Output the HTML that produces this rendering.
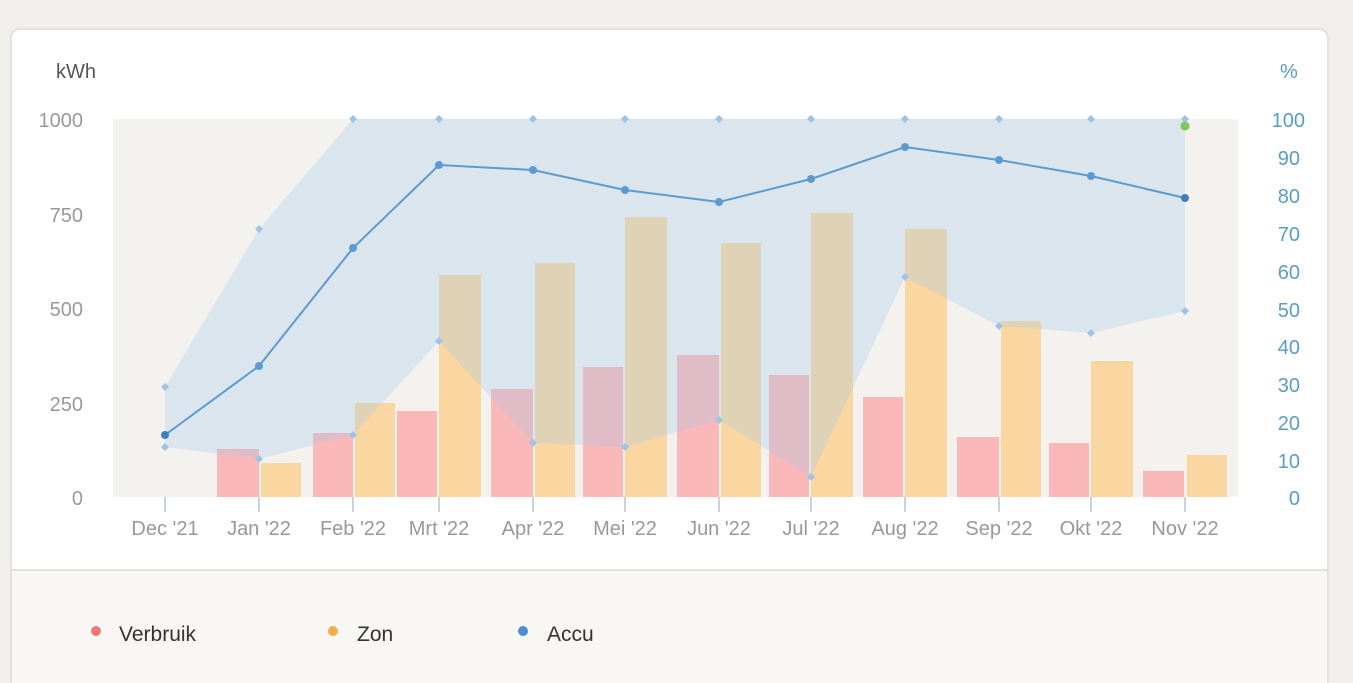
<!DOCTYPE html>
<html><head><style>
html,body{margin:0;width:1353px;height:683px;overflow:hidden;}
body{background:#f0efec;font-family:"Liberation Sans",sans-serif;position:relative;}
.card{position:absolute;left:10px;top:28px;width:1319px;height:670px;background:#fff;border:2px solid #e2e1de;border-radius:10px;box-sizing:border-box;}
.leg{position:absolute;left:12px;top:569px;width:1315px;height:114px;background:#f8f7f4;border-top:2px solid #e2e1de;}
</style></head><body>
<div class="card"></div>
<div class="leg"></div>
<svg width="1353" height="683" style="position:absolute;left:0;top:0" font-family="Liberation Sans, sans-serif">
<rect x="113" y="119" width="1125" height="378" fill="#f4f2ee"/>
<text x="56" y="78" font-size="20" fill="#555">kWh</text>
<text x="1280" y="78" font-size="20" fill="#5a9cc4">%</text>
<g font-size="20" fill="#999" text-anchor="end">
<text x="83" y="127">1000</text><text x="83" y="222">750</text><text x="83" y="316">500</text><text x="83" y="411">250</text><text x="83" y="505">0</text>
</g>
<g font-size="20" fill="#5a9cc4" text-anchor="end">
<text x="1305" y="127">100</text><text x="1300" y="165">90</text><text x="1300" y="203">80</text><text x="1300" y="241">70</text><text x="1300" y="279">60</text><text x="1300" y="317">50</text><text x="1300" y="354">40</text><text x="1300" y="392">30</text><text x="1300" y="430">20</text><text x="1300" y="468">10</text><text x="1300" y="505">0</text>
</g>
<g fill="#fbb8b8">
<rect x="217" y="449" width="42" height="48"/><rect x="313" y="433" width="40" height="64"/><rect x="397" y="411" width="40" height="86"/><rect x="491" y="389" width="42" height="108"/><rect x="583" y="367" width="40" height="130"/><rect x="677" y="355" width="42" height="142"/><rect x="769" y="375" width="40" height="122"/><rect x="863" y="397" width="40" height="100"/><rect x="957" y="437" width="42" height="60"/><rect x="1049" y="443" width="40" height="54"/><rect x="1143" y="471" width="41" height="26"/>
</g>
<g fill="#fad7a0">
<rect x="261" y="463" width="40" height="34"/><rect x="355" y="403" width="40" height="94"/><rect x="439" y="275" width="42" height="222"/><rect x="535" y="263" width="40" height="234"/><rect x="625" y="217" width="42" height="280"/><rect x="721" y="243" width="40" height="254"/><rect x="811" y="213" width="42" height="284"/><rect x="905" y="229" width="42" height="268"/><rect x="1001" y="321" width="40" height="176"/><rect x="1091" y="361" width="42" height="136"/><rect x="1187" y="455" width="40" height="42"/>
</g>
<polygon fill="rgba(161,199,235,0.3)" points="165,387 259,229 353,119 439,119 533,119 625,119 719,119 811,119 905,119 999,119 1091,119 1185,119 1185,311 1091,333 999,326 905,277 811,477 719,420 625,447 533,443 439,341 353,435 259,459 165,447"/>
<g fill="#9ec3e6">
<path d="M165 383l4 4-4 4-4-4zM259 225l4 4-4 4-4-4zM353 115l4 4-4 4-4-4zM439 115l4 4-4 4-4-4zM533 115l4 4-4 4-4-4zM625 115l4 4-4 4-4-4zM719 115l4 4-4 4-4-4zM811 115l4 4-4 4-4-4zM905 115l4 4-4 4-4-4zM999 115l4 4-4 4-4-4zM1091 115l4 4-4 4-4-4zM1185 115l4 4-4 4-4-4z"/>
<path d="M165 443l4 4-4 4-4-4zM259 455l4 4-4 4-4-4zM353 431l4 4-4 4-4-4zM439 337l4 4-4 4-4-4zM533 439l4 4-4 4-4-4zM625 443l4 4-4 4-4-4zM719 416l4 4-4 4-4-4zM811 473l4 4-4 4-4-4zM905 273l4 4-4 4-4-4zM999 322l4 4-4 4-4-4zM1091 329l4 4-4 4-4-4zM1185 307l4 4-4 4-4-4z"/>
</g>
<polyline fill="none" stroke="#5b9bd0" stroke-width="2" points="165,435 259,366 353,248 439,165 533,170 625,190 719,202 811,179 905,147 999,160 1091,176 1185,198"/>
<g fill="#5b9bd0">
<circle cx="165" cy="435" r="4" fill="#3f7fbf"/><circle cx="259" cy="366" r="4"/><circle cx="353" cy="248" r="4"/><circle cx="439" cy="165" r="4"/><circle cx="533" cy="170" r="4"/><circle cx="625" cy="190" r="4"/><circle cx="719" cy="202" r="4"/><circle cx="811" cy="179" r="4"/><circle cx="905" cy="147" r="4"/><circle cx="999" cy="160" r="4"/><circle cx="1091" cy="176" r="4"/><circle cx="1185" cy="198" r="4" fill="#3f7fbf"/>
</g>
<circle cx="1185" cy="126" r="4.5" fill="#7dc95e"/>
<g stroke="#c8d3dc" stroke-width="2">
<line x1="165" y1="497" x2="165" y2="512"/><line x1="259" y1="497" x2="259" y2="512"/><line x1="353" y1="497" x2="353" y2="512"/><line x1="439" y1="497" x2="439" y2="512"/><line x1="533" y1="497" x2="533" y2="512"/><line x1="625" y1="497" x2="625" y2="512"/><line x1="719" y1="497" x2="719" y2="512"/><line x1="811" y1="497" x2="811" y2="512"/><line x1="905" y1="497" x2="905" y2="512"/><line x1="999" y1="497" x2="999" y2="512"/><line x1="1091" y1="497" x2="1091" y2="512"/><line x1="1185" y1="497" x2="1185" y2="512"/>
</g>
<g font-size="20" fill="#999" text-anchor="middle">
<text x="165" y="535">Dec '21</text><text x="259" y="535">Jan '22</text><text x="353" y="535">Feb '22</text><text x="439" y="535">Mrt '22</text><text x="533" y="535">Apr '22</text><text x="625" y="535">Mei '22</text><text x="719" y="535">Jun '22</text><text x="811" y="535">Jul '22</text><text x="905" y="535">Aug '22</text><text x="999" y="535">Sep '22</text><text x="1091" y="535">Okt '22</text><text x="1185" y="535">Nov '22</text>
</g>
<circle cx="96" cy="631" r="5" fill="#f07878"/><text x="119" y="641" font-size="21" fill="#333">Verbruik</text>
<circle cx="333" cy="631" r="5" fill="#f2ae4a"/><text x="357" y="641" font-size="21" fill="#333">Zon</text>
<circle cx="523" cy="631" r="5" fill="#4a8fcf"/><text x="547" y="641" font-size="21" fill="#333">Accu</text>
</svg>
</body></html>
